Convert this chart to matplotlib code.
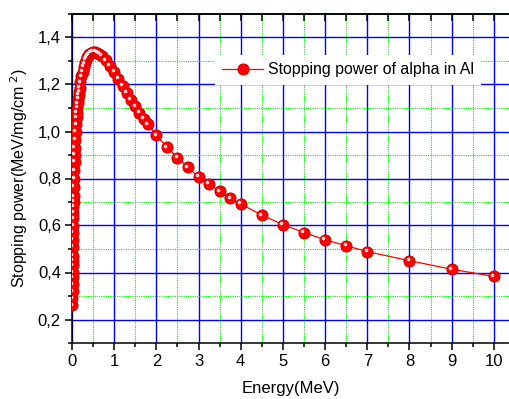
import matplotlib
matplotlib.use('Agg')
import matplotlib.pyplot as plt
import matplotlib.transforms as mtransforms
from matplotlib.ticker import MultipleLocator, FuncFormatter

plt.rcParams['font.family'] = ['Liberation Sans', 'DejaVu Sans']

# Energy (MeV) and stopping power of alpha in Al (MeV/mg/cm^2)
energy = [0.010, 0.011, 0.012, 0.013, 0.014, 0.015, 0.016, 0.017, 0.018, 0.020,
          0.0225, 0.025, 0.0275, 0.030, 0.0325, 0.035, 0.0375, 0.040, 0.045, 0.050,
          0.055, 0.060, 0.065, 0.070, 0.080, 0.090, 0.100, 0.110, 0.120, 0.130,
          0.140, 0.150, 0.160, 0.170, 0.180, 0.200, 0.225, 0.250, 0.275, 0.300,
          0.325, 0.350, 0.375, 0.400, 0.450, 0.500, 0.550, 0.600, 0.650, 0.700,
          0.800, 0.900, 1.0, 1.1, 1.2, 1.3, 1.4, 1.5, 1.6, 1.7,
          1.8, 2.0, 2.25, 2.5, 2.75, 3.0, 3.25, 3.5, 3.75, 4.0,
          4.5, 5.0, 5.5, 6.0, 6.5, 7.0, 8.0, 9.0, 10.0]
stopping = [0.26, 0.29, 0.32, 0.35, 0.38, 0.40, 0.43, 0.45, 0.47, 0.51,
            0.54, 0.57, 0.60, 0.63, 0.655, 0.68, 0.70, 0.725, 0.765, 0.80,
            0.835, 0.87, 0.90, 0.93, 0.965, 1.00, 1.03, 1.06, 1.08, 1.10,
            1.12, 1.14, 1.155, 1.17, 1.185, 1.21, 1.235, 1.255, 1.275, 1.29,
            1.305, 1.315, 1.322, 1.328, 1.335, 1.338, 1.338, 1.335, 1.33, 1.322,
            1.303, 1.28, 1.255, 1.225, 1.195, 1.165, 1.135, 1.107, 1.08, 1.055,
            1.03, 0.984, 0.933, 0.889, 0.848, 0.806, 0.777, 0.746, 0.716, 0.692,
            0.644, 0.604, 0.570, 0.539, 0.514, 0.489, 0.450, 0.414, 0.383]

fig = plt.figure(figsize=(5.09, 3.99), dpi=100)
ax = fig.add_axes([72/509, 56/399, 437/509, 329/399])

# grid
ax.grid(True, which='major', color='#0000ff', linestyle='-', linewidth=1.0, zorder=0)
ax.grid(True, which='minor', color='#00ee00', linestyle=(0, (1, 1)), linewidth=0.8, zorder=0)
ax.set_axisbelow(True)

# data: red "spheres"
ax.plot(energy, stopping, color='#ff0000', linewidth=0.9, marker='o', markersize=8,
        markerfacecolor='#ff0000', markeredgecolor='#cc0000', markeredgewidth=0.7,
        label='Stopping power of alpha in Al', zorder=3)
hl = mtransforms.offset_copy(ax.transData, fig=fig, x=-1.6, y=1.6, units='dots')
ax.plot(energy, stopping, linestyle='none', marker='o', markersize=2.6,
        markerfacecolor='white', markeredgecolor='none', alpha=0.85,
        transform=hl, zorder=4)

ax.set_xlim(0, 10.36)
ax.set_ylim(0.1, 1.5)

ax.xaxis.set_major_locator(MultipleLocator(1))
ax.xaxis.set_minor_locator(MultipleLocator(0.5))
ax.yaxis.set_major_locator(MultipleLocator(0.2))
ax.yaxis.set_minor_locator(MultipleLocator(0.1))
ax.yaxis.set_major_formatter(FuncFormatter(lambda v, p: f'{v:.1f}'.replace('.', ',')))
ax.xaxis.set_major_formatter(FuncFormatter(lambda v, p: f'{v:.0f}'))

ax.tick_params(axis='both', which='major', direction='out', length=5, width=1.1,
               labelsize=12, colors='black')
ax.tick_params(axis='both', which='minor', direction='out', length=3, width=1.1)
ax.tick_params(axis='x', which='major', pad=3)
ax.tick_params(axis='y', which='major', pad=3)

for s in ['left', 'bottom', 'top']:
    ax.spines[s].set_linewidth(1.1)
ax.spines['right'].set_visible(False)

# top axis with inward ticks, no labels
top = ax.secondary_xaxis('top')
top.set_zorder(6)
top.xaxis.set_major_locator(MultipleLocator(1))
top.xaxis.set_minor_locator(MultipleLocator(0.5))
top.tick_params(axis='x', which='both', direction='in', length=5, width=1.1,
                color='black', labeltop=False)
top.spines['top'].set_linewidth(1.1)

ax.set_xlabel('Energy(MeV)', fontsize=12)
ax.set_ylabel('Stopping power(MeV/mg/cm$^{\\ 2}$)', fontsize=11.5)
ax.xaxis.set_label_coords(0.5, -0.115)
ax.yaxis.set_label_coords(-0.095, 0.5)

leg = ax.legend(loc='center left', bbox_to_anchor=(0.327, 0.83), borderaxespad=0,
                frameon=True, fancybox=False, framealpha=1, facecolor='white',
                edgecolor='none', fontsize=11.4, handlelength=2.6,
                handletextpad=0.3, borderpad=0.45, numpoints=1)

fig.savefig('out.png', dpi=100)
